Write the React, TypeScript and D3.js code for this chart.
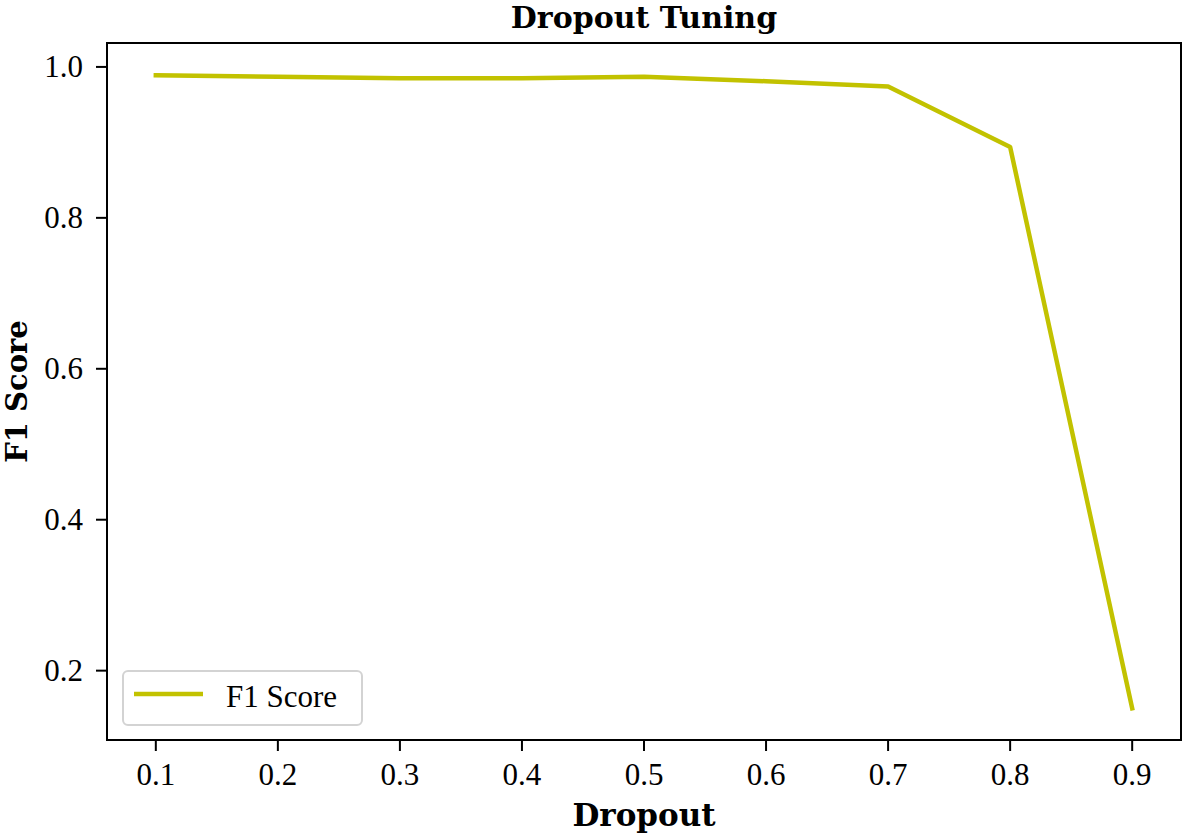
import React from "react";
import * as d3 from "d3";

const dropout = [0.1, 0.2, 0.3, 0.4, 0.5, 0.6, 0.7, 0.8, 0.9];
const f1Score = [0.989, 0.987, 0.985, 0.985, 0.987, 0.981, 0.974, 0.894, 0.15];
const xTicks = [0.1, 0.2, 0.3, 0.4, 0.5, 0.6, 0.7, 0.8, 0.9];
const yTicks = [0.2, 0.4, 0.6, 0.8, 1.0];

const W = 1183;
const H = 836;
const left = 107;
const right = 1181;
const top = 43;
const bottom = 740;

const lineColor = "#c2c200";
const tickFont = "'Liberation Serif', 'Times New Roman', serif";
const boldFont = "'DejaVu Serif', serif";

export default function App() {
  const x = d3.scaleLinear().domain([0.06, 0.94]).range([left, right]);
  const y = d3.scaleLinear().domain([0.1081, 1.0317]).range([bottom, top]);
  const line = d3
    .line<number>()
    .x((_, i) => x(dropout[i]))
    .y((d) => y(d));
  const path = line(f1Score) || "";

  return (
    <svg
      width={W}
      height={H}
      style={{ position: "absolute", left: 0, top: 0, background: "#fff" }}
    >
      <rect x={0} y={0} width={W} height={H} fill="#fff" />
      <path
        d={path}
        fill="none"
        stroke={lineColor}
        strokeWidth={4.5}
        strokeLinejoin="round"
        strokeLinecap="square"
      />
      <rect
        x={left}
        y={top}
        width={right - left}
        height={bottom - top}
        fill="none"
        stroke="#000"
        strokeWidth={2}
      />
      {xTicks.map((t) => (
        <g key={"x" + t}>
          <line x1={x(t)} x2={x(t)} y1={bottom} y2={bottom + 11} stroke="#000" strokeWidth={2} />
          <text
            x={x(t)}
            y={785}
            textAnchor="middle"
            fontFamily={tickFont}
            fontSize={31}
            fill="#000"
          >
            {t.toFixed(1)}
          </text>
        </g>
      ))}
      {yTicks.map((t) => (
        <g key={"y" + t}>
          <line x1={left - 11} x2={left} y1={y(t)} y2={y(t)} stroke="#000" strokeWidth={2} />
          <text
            x={83}
            y={y(t) + 10}
            textAnchor="end"
            fontFamily={tickFont}
            fontSize={31}
            fill="#000"
          >
            {t.toFixed(1)}
          </text>
        </g>
      ))}
      <text
        x={(left + right) / 2}
        y={28}
        textAnchor="middle"
        fontFamily={boldFont}
        fontWeight="bold"
        fontSize={30}
        fill="#000"
      >
        Dropout Tuning
      </text>
      <text
        x={(left + right) / 2}
        y={826}
        textAnchor="middle"
        fontFamily={boldFont}
        fontWeight="bold"
        fontSize={31}
        fill="#000"
      >
        Dropout
      </text>
      <text
        transform={`translate(27, ${(top + bottom) / 2}) rotate(-90)`}
        textAnchor="middle"
        fontFamily={boldFont}
        fontWeight="bold"
        fontSize={29}
        fill="#000"
      >
        F1 Score
      </text>
      <g>
        <rect x={123} y={671} width={239} height={54} rx={5} fill="#fff" stroke="#d3d3d3" strokeWidth={2} />
        <line x1={134} x2={203} y1={694} y2={694} stroke={lineColor} strokeWidth={4.5} />
        <text x={226} y={707} fontFamily={tickFont} fontSize={31} fill="#000">
          F1 Score
        </text>
      </g>
    </svg>
  );
}
